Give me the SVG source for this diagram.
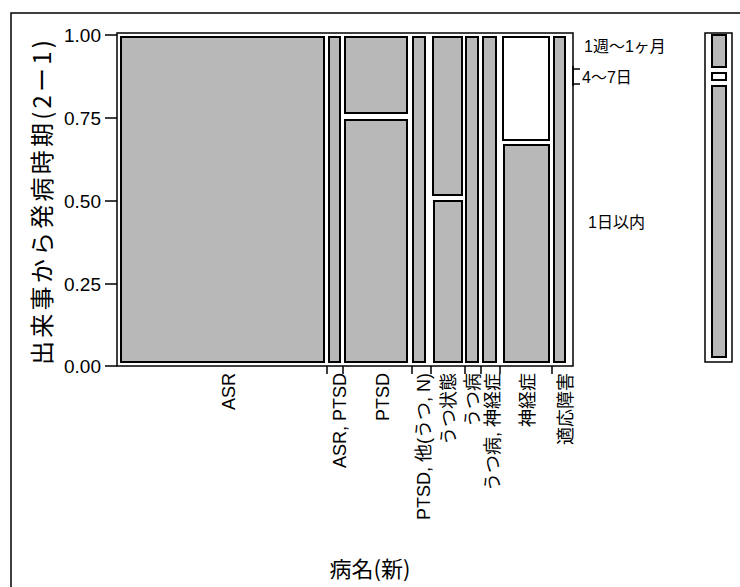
<svg xmlns="http://www.w3.org/2000/svg" width="740" height="587" viewBox="0 0 740 587">
<style>
.bar{fill:#b8b8b8;stroke:#000;stroke-width:2}
.wbar{fill:#fff;stroke:#000;stroke-width:2}
.ln{stroke:#000;stroke-width:1.5;fill:none}
.tk{font-family:"Liberation Sans",Arial,sans-serif;font-size:19px;fill:#000}
.lb{font-family:"Liberation Sans","Noto Sans CJK JP",sans-serif;font-size:18px;fill:#000}
.rl{font-family:"Liberation Sans","Noto Sans CJK JP",sans-serif;font-size:16px;fill:#000}
.ti{font-family:"Noto Sans CJK JP",sans-serif;fill:#000}
</style>
<rect width="740" height="587" fill="#fff"/>
<g id="frame">
<path class="ln" d="M11 587 V13 H740"/>
</g>
<g id="axes">
<rect x="117" y="33" width="456" height="333" class="ln"/>
<path class="ln" d="M105 35 H117 M105 118 H117 M105 201 H117 M105 284 H117 M105 366 H117"/>
<text class="tk" x="101" y="42" text-anchor="end">1.00</text>
<text class="tk" x="101" y="125" text-anchor="end">0.75</text>
<text class="tk" x="101" y="208" text-anchor="end">0.50</text>
<text class="tk" x="101" y="291" text-anchor="end">0.25</text>
<text class="tk" x="101" y="373" text-anchor="end">0.00</text>
<path class="ln" d="M327 366 V374 M343 366 V374 M412 366 V374 M431 366 V374 M465 366 V374 M481 366 V374 M500 366 V374 M552 366 V374"/>
<path class="ln" d="M573 66 V86 M573 69 H580 M573 84 H580"/>
</g>
<g id="bars">
<rect class="bar" x="121" y="37" width="203" height="325"/>
<rect class="bar" x="329" y="37" width="11" height="325"/>
<rect class="bar" x="345" y="37" width="62" height="76"/>
<rect class="bar" x="345" y="120" width="62" height="242"/>
<rect class="bar" x="413" y="37" width="12" height="325"/>
<rect class="bar" x="433" y="37" width="29" height="158"/>
<rect class="bar" x="434" y="201" width="28" height="161"/>
<rect class="bar" x="466" y="37" width="12" height="325"/>
<rect class="bar" x="483" y="37" width="13" height="325"/>
<rect class="wbar" x="503" y="37" width="46" height="103"/>
<rect class="bar" x="504" y="145" width="45" height="217"/>
<rect class="bar" x="554" y="37" width="11" height="325"/>
</g>
<g id="legend">
<rect x="705" y="33" width="27" height="329" class="ln"/>
<rect class="bar" x="712" y="35" width="14" height="32"/>
<rect class="wbar" x="712" y="73" width="14" height="7"/>
<rect class="bar" x="712" y="86" width="14" height="271"/>
</g>
<g id="labels">
<text class="rl" x="584" y="52">1週～1ヶ月</text>
<text class="rl" x="582" y="83">4～7日</text>
<text class="rl" x="588" y="228">1日以内</text>
<text class="lb" transform="translate(235,373) rotate(-90)" text-anchor="end">ASR</text>
<text class="lb" transform="translate(346,373) rotate(-90)" text-anchor="end">ASR, PTSD</text>
<text class="lb" transform="translate(389,373) rotate(-90)" text-anchor="end">PTSD</text>
<text class="lb" transform="translate(430,373) rotate(-90)" text-anchor="end">PTSD, 他(うつ, N)</text>
<text class="lb" transform="translate(455,373) rotate(-90)" text-anchor="end">うつ状態</text>
<text class="lb" transform="translate(479,373) rotate(-90)" text-anchor="end">うつ病</text>
<text class="lb" transform="translate(499,373) rotate(-90)" text-anchor="end">うつ病, 神経症</text>
<text class="lb" transform="translate(534,373) rotate(-90)" text-anchor="end">神経症</text>
<text class="lb" transform="translate(572,373) rotate(-90)" text-anchor="end">適応障害</text>
<text class="ti" font-size="24" textLength="325" lengthAdjust="spacing" transform="translate(51,365) rotate(-90)">出来事から発病時期(2ー1)</text>
<text class="ti" font-size="22" x="370" y="577" text-anchor="middle">病名(新)</text>
</g>
</svg>
